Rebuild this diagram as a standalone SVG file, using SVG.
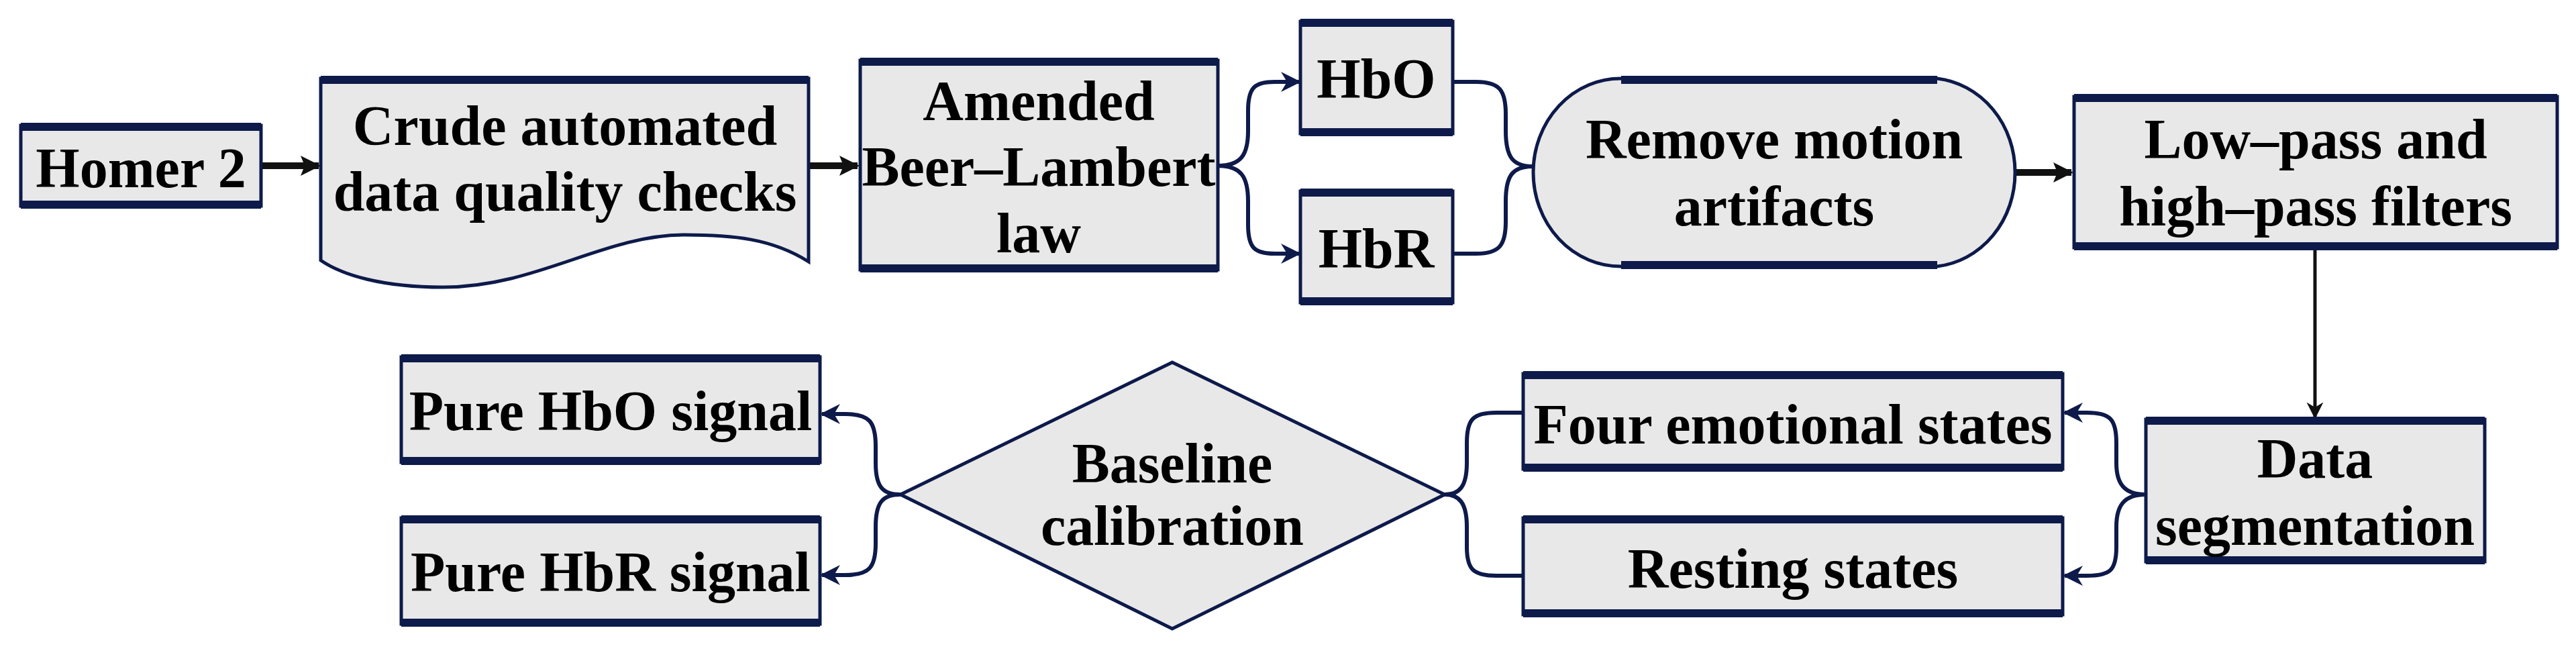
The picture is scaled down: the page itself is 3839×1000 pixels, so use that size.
<svg xmlns="http://www.w3.org/2000/svg" width="3839" height="1000" viewBox="0 0 3839 1000">
<style>
.n{fill:#e8e8e8;stroke:#0d1a4a;stroke-width:5}
.tb{stroke:#0d1a4a;stroke-width:12}
.t{font-family:"Liberation Serif","Times New Roman",serif;font-weight:bold;font-size:84px;fill:#000;text-anchor:middle;dominant-baseline:central}
.b{fill:none;stroke:#0d1a4a;stroke-width:6}
.k{fill:none;stroke:#111;stroke-width:10}
</style>
<defs>
<marker id="nv" viewBox="0 0 10 10" refX="9" refY="5" markerWidth="5" markerHeight="6" orient="auto" markerUnits="strokeWidth"><path d="M0,0 L10,5 L0,10 L3,5 Z" fill="#0d1a4a"/></marker>
<marker id="bk" viewBox="0 0 10 10" refX="9" refY="5" markerWidth="3" markerHeight="3.5" orient="auto" markerUnits="strokeWidth"><path d="M0,0 L10,5 L0,10 L2,5 Z" fill="#111"/></marker>
<marker id="bk2" viewBox="0 0 10 10" refX="9" refY="5" markerWidth="5" markerHeight="7" orient="auto" markerUnits="strokeWidth"><path d="M0,0 L10,5 L0,10 L3,5 Z" fill="#111"/></marker>
</defs>
<rect width="3839" height="1000" fill="#fff"/>
<g id="connectors">
<line class="k" x1="389" y1="247" x2="475" y2="247" marker-end="url(#bk)"/>
<line class="k" x1="1205" y1="247" x2="1278" y2="247" marker-end="url(#bk)"/>
<line class="k" x1="3003" y1="257" x2="3087" y2="257" marker-end="url(#bk)"/>
<line x1="3450" y1="369" x2="3450" y2="622" stroke="#111" stroke-width="5" marker-end="url(#bk2)"/>
<path class="b" d="M1815,247 C1850,247 1860,230 1860,195 L1860,165 C1860,130 1870,122 1900,122 L1936,122" marker-end="url(#nv)"/>
<path class="b" d="M1815,247 C1850,247 1860,264 1860,300 L1860,335 C1860,370 1870,378 1900,378 L1936,378" marker-end="url(#nv)"/>
<path class="b" d="M2165,122 L2200,122 C2235,122 2244,135 2244,170 L2244,195 C2244,235 2255,248 2285,248"/>
<path class="b" d="M2165,378 L2200,378 C2235,378 2244,365 2244,330 L2244,300 C2244,260 2255,248 2285,248"/>
<path class="b" d="M3198,737 C3165,737 3154,720 3154,690 L3154,660 C3154,625 3145,615 3110,615 L3077,615" marker-end="url(#nv)"/>
<path class="b" d="M3198,737 C3165,737 3154,754 3154,785 L3154,815 C3154,850 3145,858 3110,858 L3077,858" marker-end="url(#nv)"/>
<path class="b" d="M2270,615 L2230,615 C2195,615 2186,625 2186,660 L2186,690 C2186,725 2175,737 2153,737"/>
<path class="b" d="M2270,858 L2230,858 C2195,858 2186,848 2186,815 L2186,785 C2186,750 2175,737 2153,737"/>
<path class="b" d="M1342,737 C1315,737 1305,725 1305,690 L1305,665 C1305,628 1295,617 1260,617 L1225,617" marker-end="url(#nv)"/>
<path class="b" d="M1342,737 C1315,737 1305,749 1305,785 L1305,810 C1305,846 1295,857 1260,857 L1225,857" marker-end="url(#nv)"/>
</g>
<g id="homer"><rect class="n" x="31" y="187" width="358" height="120"/><line class="tb" x1="31" y1="189" x2="389" y2="189"/><line class="tb" x1="31" y1="305" x2="389" y2="305"/><text class="t" x="210" y="250">Homer 2</text></g>
<g id="crude"><path class="n" d="M478,117 L1205,117 L1205,390 C1150,355 1090,350 1020,350 C900,350 800,428 660,428 C570,428 510,410 478,388 Z"/><line class="tb" x1="478" y1="119" x2="1205" y2="119"/><text class="t" x="842" y="187">Crude automated</text><text class="t" x="842" y="285">data quality checks</text></g>
<g id="amended"><rect class="n" x="1282" y="90" width="533" height="312"/><line class="tb" x1="1282" y1="92" x2="1815" y2="92"/><line class="tb" x1="1282" y1="400" x2="1815" y2="400"/><text class="t" x="1548" y="150">Amended</text><text class="t" x="1548" y="248">Beer–Lambert</text><text class="t" x="1548" y="347">law</text></g>
<g id="hbo"><rect class="n" x="1938" y="32" width="227" height="167"/><line class="tb" x1="1938" y1="34" x2="2165" y2="34"/><line class="tb" x1="1938" y1="197" x2="2165" y2="197"/><text class="t" x="2051" y="117">HbO</text></g>
<g id="hbr"><rect class="n" x="1938" y="285" width="227" height="166"/><line class="tb" x1="1938" y1="287" x2="2165" y2="287"/><line class="tb" x1="1938" y1="449" x2="2165" y2="449"/><text class="t" x="2051" y="370">HbR</text></g>
<g id="remove"><path class="n" d="M2416,117 L2887,117 A130,140 0 0 1 3003,257 A130,140 0 0 1 2887,397 L2416,397 A130,140 0 0 1 2285,257 A130,140 0 0 1 2416,117 Z"/><line class="tb" x1="2416" y1="119" x2="2887" y2="119"/><line class="tb" x1="2416" y1="395" x2="2887" y2="395"/><text class="t" x="2644" y="207">Remove motion</text><text class="t" x="2644" y="307">artifacts</text></g>
<g id="lowpass"><rect class="n" x="3091" y="144" width="720" height="225"/><line class="tb" x1="3091" y1="146" x2="3811" y2="146"/><line class="tb" x1="3091" y1="367" x2="3811" y2="367"/><text class="t" x="3451" y="207">Low–pass and</text><text class="t" x="3451" y="307">high–pass filters</text></g>
<g id="dataseg"><rect class="n" x="3198" y="625" width="505" height="212"/><line class="tb" x1="3198" y1="627" x2="3703" y2="627"/><line class="tb" x1="3198" y1="835" x2="3703" y2="835"/><text class="t" x="3450" y="683">Data</text><text class="t" x="3450" y="783">segmentation</text></g>
<g id="four"><rect class="n" x="2270" y="557" width="804" height="142"/><line class="tb" x1="2270" y1="559" x2="3074" y2="559"/><line class="tb" x1="2270" y1="697" x2="3074" y2="697"/><text class="t" x="2672" y="632">Four emotional states</text></g>
<g id="resting"><rect class="n" x="2270" y="772" width="804" height="144"/><line class="tb" x1="2270" y1="774" x2="3074" y2="774"/><line class="tb" x1="2270" y1="914" x2="3074" y2="914"/><text class="t" x="2672" y="847">Resting states</text></g>
<g id="baseline"><path class="n" d="M1747,540 L2153,737 L1747,937 L1342,737 Z"/><text class="t" x="1747" y="690">Baseline</text><text class="t" x="1747" y="783">calibration</text></g>
<g id="purehbo"><rect class="n" x="598" y="532" width="624" height="157"/><line class="tb" x1="598" y1="534" x2="1222" y2="534"/><line class="tb" x1="598" y1="687" x2="1222" y2="687"/><text class="t" x="910" y="612">Pure HbO signal</text></g>
<g id="purehbr"><rect class="n" x="598" y="772" width="624" height="158"/><line class="tb" x1="598" y1="774" x2="1222" y2="774"/><line class="tb" x1="598" y1="928" x2="1222" y2="928"/><text class="t" x="910" y="852">Pure HbR signal</text></g>
</svg>
